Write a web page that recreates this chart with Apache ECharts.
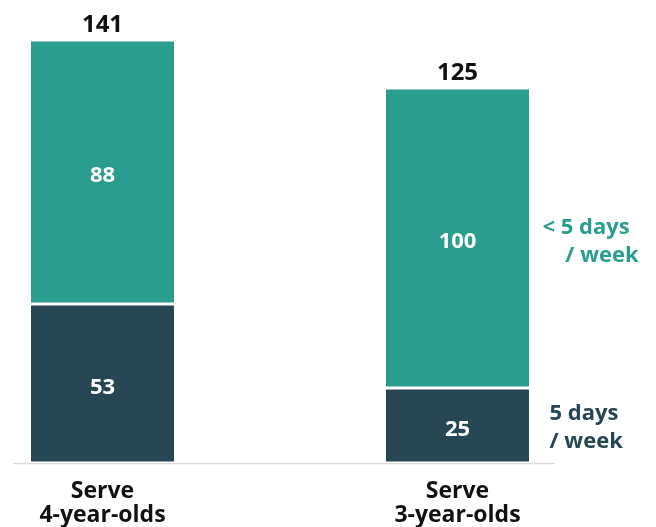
<!DOCTYPE html>
<html>
<head>
<meta charset="utf-8">
<script src="https://cdn.jsdelivr.net/npm/echarts@6/dist/echarts.min.js"></script>
<style>
  html, body { margin: 0; padding: 0; background: #fff; }
  #main { width: 656px; height: 527px; }
</style>
</head>
<body>
<div id="main"></div>
<script>
  // data
  var categories = ['Serve\n4-year-olds', 'Serve\n3-year-olds'];
  var fullWeek = [53, 25];      // 5 days / week
  var partWeek = [88, 100];     // < 5 days / week
  var totals = [141, 125];

  var FONT = 'Open Sans';
  var TEAL = '#2a9d8f';
  var DARK = '#264653';

  var chart = echarts.init(document.getElementById('main'));

  var option = {
    animation: false,
    grid: { left: 102.5, right: 198.5, top: 40, bottom: 64 },
    xAxis: {
      type: 'category',
      boundaryGap: false,
      data: categories,
      axisLine: { show: false },
      axisTick: { show: false },
      axisLabel: {
        color: '#111',
        fontFamily: FONT,
        fontWeight: 'bold',
        fontSize: 23,
        lineHeight: 24,
        margin: 16
      }
    },
    yAxis: {
      type: 'value',
      min: 0,
      max: 141,
      show: false,
      splitLine: { show: false }
    },
    series: [
      {
        name: '5 days / week',
        type: 'bar',
        stack: 'a',
        barWidth: 146,
        data: fullWeek,
        itemStyle: { color: DARK, borderColor: '#fff', borderWidth: 1.5 },
        label: {
          show: true,
          position: 'inside',
          offset: [0, 4],
          color: '#fff',
          fontFamily: FONT,
          fontWeight: 'bold',
          fontSize: 22
        },
        markPoint: {
          symbol: 'circle',
          symbolSize: 0,
          data: [{ coord: [categories[1], fullWeek[1] / 2] }],
          label: {
            show: true,
            position: 'right',
            distance: 92,
            offset: [0, 2],
            formatter: '5 days\n/ week',
            color: DARK,
            fontFamily: FONT,
            fontWeight: 'bold',
            fontSize: 22,
            lineHeight: 28,
            align: 'left'
          }
        }
      },
      {
        name: '< 5 days / week',
        type: 'bar',
        stack: 'a',
        barWidth: 146,
        data: partWeek,
        itemStyle: { color: TEAL, borderColor: '#fff', borderWidth: 1.5 },
        label: {
          show: true,
          position: 'inside',
          offset: [0, 4],
          color: '#fff',
          fontFamily: FONT,
          fontWeight: 'bold',
          fontSize: 22
        },
        markPoint: {
          symbol: 'circle',
          symbolSize: 0,
          data: [{ coord: [categories[1], fullWeek[1] + partWeek[1] / 2] }],
          label: {
            show: true,
            position: 'right',
            distance: 85,
            offset: [0, 4],
            formatter: '< 5 days\n    / week',
            color: TEAL,
            fontFamily: FONT,
            fontWeight: 'bold',
            fontSize: 22,
            lineHeight: 28,
            align: 'left'
          }
        }
      },
      {
        // totals on top of the stacks
        type: 'bar',
        stack: 'a',
        barWidth: 146,
        data: [0, 0],
        itemStyle: { color: 'transparent' },
        label: {
          show: true,
          position: 'top',
          distance: 3,
          color: '#111',
          fontFamily: FONT,
          fontWeight: 'bold',
          fontSize: 24,
          formatter: function (p) { return totals[p.dataIndex]; }
        }
      }
    ]
  };

  chart.setOption(option);

  // light baseline under the bars
  var base = chart.convertToPixel({ gridIndex: 0 }, [0, 0]);
  chart.setOption({
    graphic: [{
      type: 'line',
      shape: { x1: 13, y1: base[1] + 0.5, x2: 555, y2: base[1] + 0.5 },
      style: { stroke: '#dcdcdc', lineWidth: 1.5 },
      z: 0
    }]
  });
</script>
</body>
</html>
